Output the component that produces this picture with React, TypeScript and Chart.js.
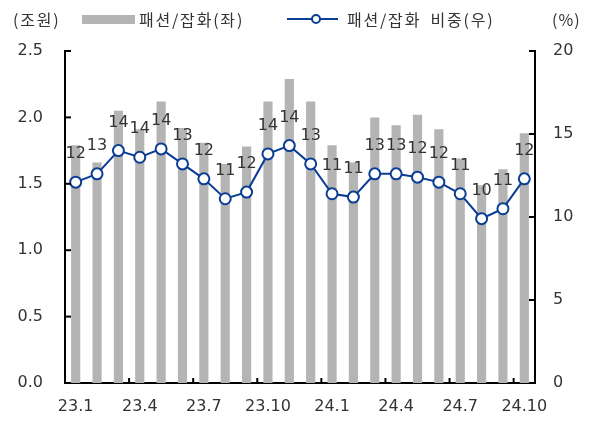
import React, { useEffect, useRef } from "react";
import { Chart, registerables } from "chart.js";

Chart.register(...registerables);

const categories = [
  "23.1", "23.2", "23.3", "23.4", "23.5", "23.6", "23.7", "23.8", "23.9", "23.10", "23.11", "23.12",
  "24.1", "24.2", "24.3", "24.4", "24.5", "24.6", "24.7", "24.8", "24.9", "24.10",
];
const salesTrillionWon = [
  1.79, 1.66, 2.05, 1.91, 2.12, 1.92, 1.81, 1.65, 1.78, 2.12, 2.29, 2.12,
  1.79, 1.66, 2.0, 1.94, 2.02, 1.91, 1.69, 1.49, 1.61, 1.88,
];
const sharePct = [
  12.1, 12.6, 14.0, 13.6, 14.1, 13.2, 12.3, 11.1, 11.5, 13.8, 14.3, 13.2,
  11.4, 11.2, 12.6, 12.6, 12.4, 12.1, 11.4, 9.9, 10.5, 12.3,
];
const leftTicks = [0, 0.5, 1.0, 1.5, 2.0, 2.5];
const rightTicks = [0, 5, 10, 15, 20];

const BAR_COLOR = "#b4b4b4";
const LINE_COLOR = "#0b3d94";
const TEXT_COLOR = "#333333";
const NUM_FONT = "'DejaVu Sans', sans-serif";
const KR_FONT = "'Noto Sans CJK KR', 'Noto Sans', sans-serif";

const decorPlugin = {
  id: "decor",
  afterDatasetsDraw(chart: any) {
    const ctx = chart.ctx;
    const x = chart.scales.x;
    const yL = chart.scales.y;
    const yR = chart.scales.y1;
    const area = chart.chartArea;
    ctx.save();
    ctx.strokeStyle = "#000";
    ctx.lineWidth = 2;
    for (let k = 3; k < categories.length; k += 3) {
      const px = (x.getPixelForValue(k - 1) + x.getPixelForValue(k)) / 2;
      ctx.beginPath();
      ctx.moveTo(px, area.bottom);
      ctx.lineTo(px, area.bottom - 5);
      ctx.stroke();
    }
    leftTicks.forEach((v) => {
      if (v === 0) return;
      const py = yL.getPixelForValue(v);
      ctx.beginPath();
      ctx.moveTo(area.left, py);
      ctx.lineTo(area.left + 6, py);
      ctx.stroke();
    });
    rightTicks.forEach((v) => {
      if (v === 0) return;
      const py = yR.getPixelForValue(v);
      ctx.beginPath();
      ctx.moveTo(area.right, py);
      ctx.lineTo(area.right - 6, py);
      ctx.stroke();
    });
    const meta = chart.getDatasetMeta(1);
    ctx.fillStyle = TEXT_COLOR;
    ctx.font = "16px " + NUM_FONT;
    ctx.textAlign = "center";
    ctx.textBaseline = "middle";
    meta.data.forEach((pt: any, i: number) => {
      ctx.fillText(String(Math.round(sharePct[i])), pt.x, pt.y - 28);
    });
    ctx.restore();
  },
};

export default function App() {
  const ref = useRef<HTMLCanvasElement>(null);
  useEffect(() => {
    document.body.style.margin = "0";
    const chart = new Chart(ref.current!, {
      type: "bar",
      data: {
        labels: categories,
        datasets: [
          {
            type: "bar",
            label: "패션/잡화(좌)",
            data: salesTrillionWon,
            backgroundColor: BAR_COLOR,
            yAxisID: "y",
            categoryPercentage: 1,
            barPercentage: 0.43,
            order: 2,
          },
          {
            type: "line",
            label: "패션/잡화 비중(우)",
            data: sharePct,
            borderColor: LINE_COLOR,
            borderWidth: 2,
            pointRadius: 5.5,
            pointBorderWidth: 2,
            pointBackgroundColor: "#ffffff",
            pointBorderColor: LINE_COLOR,
            yAxisID: "y1",
            order: 1,
          },
        ],
      },
      options: {
        responsive: false,
        animation: false,
        layout: { padding: { top: 51, left: 0, right: 0, bottom: 0 } },
        plugins: { legend: { display: false }, tooltip: { enabled: false } },
        scales: {
          x: {
            offset: true,
            grid: { display: false, drawTicks: false },
            border: { display: true, color: "#000", width: 2 },
            ticks: {
              autoSkip: false,
              maxRotation: 0,
              padding: 14,
              color: TEXT_COLOR,
              font: { size: 16, family: NUM_FONT },
              callback: (_v: any, i: number) => (i % 3 === 0 ? categories[i] : ""),
            },
            afterFit: (s: any) => {
              s.height = 39;
            },
          },
          y: {
            position: "left",
            min: 0,
            max: 2.5,
            grid: { display: false, drawTicks: false },
            border: { display: true, color: "#000", width: 2 },
            ticks: {
              stepSize: 0.5,
              padding: 22,
              color: TEXT_COLOR,
              font: { size: 16, family: NUM_FONT },
              callback: (v: any) => Number(v).toFixed(1),
            },
            afterFit: (s: any) => {
              s.width = 65;
            },
          },
          y1: {
            position: "right",
            min: 0,
            max: 20,
            grid: { display: false, drawTicks: false },
            border: { display: true, color: "#000", width: 2 },
            ticks: {
              stepSize: 5,
              padding: 18,
              color: TEXT_COLOR,
              font: { size: 16, family: NUM_FONT },
            },
            afterFit: (s: any) => {
              s.width = 55;
            },
          },
        },
      },
      plugins: [decorPlugin],
    });
    return () => chart.destroy();
  }, []);

  const textStyle: React.CSSProperties = {
    position: "absolute",
    top: 7,
    fontFamily: KR_FONT,
    fontSize: 16,
    letterSpacing: "1.8px",
    lineHeight: "24px",
    color: TEXT_COLOR,
    whiteSpace: "nowrap",
  };

  return (
    <div style={{ position: "relative", width: 590, height: 422, background: "#fff" }}>
      <canvas ref={ref} width={590} height={422} style={{ display: "block" }} />
      <div style={{ ...textStyle, left: 13 }}>(조원)</div>
      <div style={{ position: "absolute", left: 82, top: 15, width: 53, height: 9, background: BAR_COLOR }} />
      <div style={{ ...textStyle, left: 139 }}>패션/잡화(좌)</div>
      <div style={{ position: "absolute", left: 287, top: 18, width: 51, height: 2, background: LINE_COLOR }} />
      <div
        style={{
          position: "absolute",
          left: 311,
          top: 14,
          width: 6,
          height: 6,
          borderRadius: "50%",
          border: `2px solid ${LINE_COLOR}`,
          background: "#fff",
        }}
      />
      <div style={{ ...textStyle, left: 347, wordSpacing: "4px" }}>패션/잡화 비중(우)</div>
      <div style={{ ...textStyle, left: 552, letterSpacing: "1px" }}>(%)</div>
    </div>
  );
}
